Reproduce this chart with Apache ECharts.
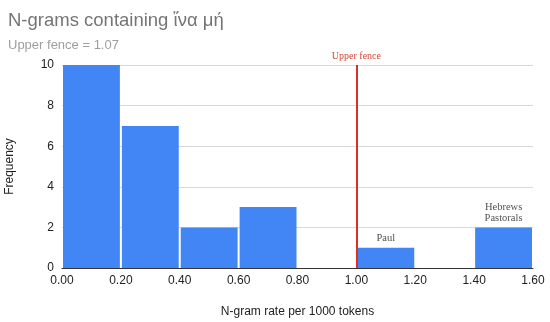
<!DOCTYPE html>
<html><head><meta charset="utf-8">
<script src="https://cdn.jsdelivr.net/npm/echarts@6/dist/echarts.min.js"></script>
<style>html,body{margin:0;padding:0;background:#fff}#c{width:550px;height:322px}</style>
</head><body><div id="c"></div>
<script>
const binStarts = [0.0, 0.2, 0.4, 0.6, 0.8, 1.0, 1.2, 1.4];
const binEnds   = [0.2, 0.4, 0.6, 0.8, 1.0, 1.2, 1.4, 1.6];
const counts    = [10, 7, 2, 3, 0, 1, 0, 2];
const annotations = [[1.1, 1, 'Paul'], [1.5, 2, 'Hebrews\nPastorals']];
const upperFenceLine = 1.0;
const titleText = 'N-grams containing ἵνα μή';
const subtitleText = 'Upper fence = 1.07';

const chart = echarts.init(document.getElementById('c'));
const histData = binStarts.map((s, i) => [s, binEnds[i], counts[i]]);
chart.setOption({
  animation: false,
  title: {
    text: titleText, subtext: subtitleText, left: 3, top: 6, itemGap: 9,
    textStyle: {fontFamily: 'Liberation Sans, Arial', fontSize: 18.5, fontWeight: 'normal', color: '#757575'},
    subtextStyle: {fontFamily: 'Liberation Sans, Arial', fontSize: 13, color: '#9e9e9e'}
  },
  grid: {left: 62, right: 17, top: 65, bottom: 54, outerBoundsMode: 'none', containLabel: false},
  xAxis: {
    type: 'value', min: 0, max: 1.6, interval: 0.2,
    name: 'N-gram rate per 1000 tokens', nameLocation: 'middle', nameGap: 38,
    nameTextStyle: {fontFamily: 'Liberation Sans, Arial', fontSize: 12, color: '#222'},
    axisLine: {show: true, onZero: false, lineStyle: {color: '#333', width: 1}},
    axisTick: {show: false},
    splitLine: {show: false},
    axisLabel: {formatter: v => v.toFixed(2), fontFamily: 'Liberation Sans, Arial', fontSize: 12, color: '#222', margin: 7}
  },
  yAxis: {
    type: 'value', min: 0, max: 10, interval: 2,
    name: 'Frequency', nameLocation: 'middle', nameGap: 46, nameRotate: 90,
    nameTextStyle: {fontFamily: 'Liberation Sans, Arial', fontSize: 12, color: '#222'},
    axisLine: {show: false}, axisTick: {show: false},
    splitLine: {lineStyle: {color: '#d9d9d9', width: 1}},
    axisLabel: {fontFamily: 'Liberation Sans, Arial', fontSize: 12, color: '#222', margin: 8}
  },
  series: [
    {
      type: 'custom',
      data: histData,
      encode: {x: [0, 1], y: 2},
      renderItem: function (params, api) {
        const p0 = api.coord([api.value(0), api.value(2)]);
        const p1 = api.coord([api.value(1), 0]);
        const x0 = p0[0] + 1, x1 = p1[0] - 1;
        return {
          type: 'rect',
          shape: {x: x0, y: p0[1], width: x1 - x0, height: p1[1] - p0[1]},
          style: {fill: '#4285f4'}
        };
      },
      z: 2
    },
    {
      type: 'scatter',
      data: annotations,
      symbolSize: 0,
      label: {
        show: true, position: 'top', distance: 4,
        formatter: p => p.data[2],
        fontFamily: 'Liberation Serif, Times New Roman, serif', fontSize: 10.5, color: '#222', lineHeight: 11
      },
      markLine: {
        silent: true, symbol: 'none',
        lineStyle: {color: '#d93025', width: 2, type: 'solid'},
        label: {show: true, position: 'end', formatter: 'Upper fence', distance: 4,
          fontFamily: 'Liberation Serif, Times New Roman, serif', fontSize: 10, color: '#d14836'},
        data: [{xAxis: upperFenceLine}]
      },
      z: 3
    }
  ]
});
</script></body></html>
